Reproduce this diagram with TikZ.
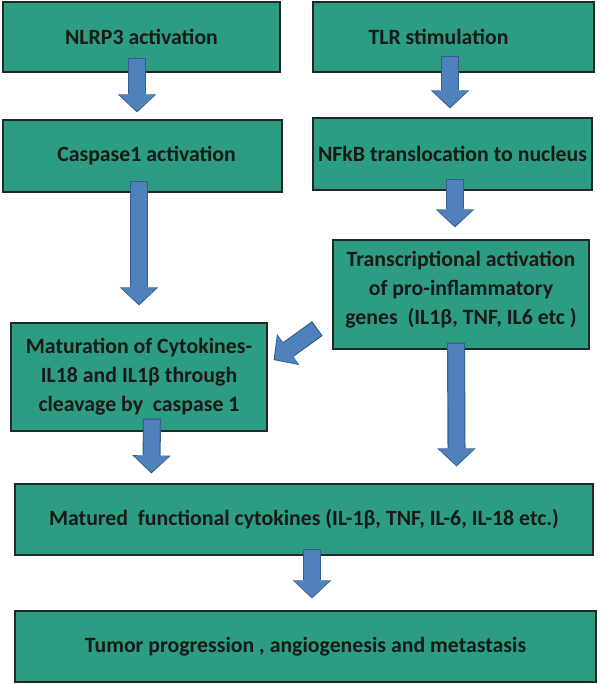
\documentclass[tikz,border=0pt]{standalone}
\usepackage{fontspec}
\setmainfont{Carlito}
\usetikzlibrary{arrows.meta}
\definecolor{boxteal}{RGB}{44,157,131}
\definecolor{arrowblue}{RGB}{79,129,189}
\definecolor{arrowedge}{RGB}{56,93,138}
\begin{document}
\begin{tikzpicture}[x=1pt, y=-1pt,
    box/.style={rectangle, draw=black!85, line width=1.2pt, fill=boxteal, inner sep=0pt, align=center, text=black!90, font=\bfseries\fontsize{21.8}{29}\selectfont},
    barrow/.style={draw=arrowblue, line width=15.6pt, shorten >=1.5pt, shorten <=1.2pt,
        -{Triangle[width=35pt, length=15.8pt, line width=0pt 0]},
        preaction={draw=arrowedge, line width=18pt, shorten >=0pt, shorten <=0pt,
        -{Triangle[width=38.5pt, length=18pt, line width=0pt 0]}}}
]
\useasboundingbox (0,0) rectangle (600,684);
\node[box, minimum width=277pt, minimum height=70pt] (nlrp) at (141.5,37) {NLRP3 activation};
\node[box, minimum width=281pt, minimum height=70pt] (tlr) at (453.5,37) {TLR stimulation\hspace{30pt}};
\node[box, minimum width=279pt, minimum height=72pt] (casp) at (142.5,156) {\hspace{8pt}Caspase1 activation};
\node[box, minimum width=279pt, minimum height=72pt] (nfkb) at (452.5,154) {NFkB translocation to nucleus};
\node[box, minimum width=256pt, minimum height=109pt] (trans) at (461,294.5) {Transcriptional activation\\of pro-inflammatory\\genes\ \ (IL1β, TNF, IL6 etc )\rule[-13pt]{0pt}{1pt}};
\node[box, minimum width=256pt, minimum height=108pt] (mat) at (139,377) {Maturation of Cytokines-\\IL18 and IL1β through\\cleavage by\ \ caspase 1};
\node[box, minimum width=578pt, minimum height=71pt] (matured) at (304,519.5) {Matured\ \ functional cytokines (IL-1β, TNF, IL-6, IL-18 etc.)};
\node[box, minimum width=581pt, minimum height=71pt] (tumor) at (305.5,646.5) {Tumor progression , angiogenesis and metastasis};
\draw[barrow] ([xshift=-4.5pt, yshift=15pt]nlrp.south) -- ([xshift=-5.5pt, yshift=7pt]casp.north);
\draw[barrow] ([xshift=-3.5pt, yshift=17pt]tlr.south) -- ([xshift=-2.5pt, yshift=9pt]nfkb.north);
\draw[barrow] ([xshift=-3.5pt, yshift=12pt]casp.south) -- ([yshift=17pt]mat.north);
\draw[barrow] ([xshift=2.5pt, yshift=12pt]nfkb.south) -- ([xshift=-6pt, yshift=12pt]trans.north);
\draw[barrow] ([xshift=-15pt, yshift=-34pt]trans.west) -- ([xshift=6pt, yshift=17pt]mat.east);
\draw[barrow] ([xshift=13pt, yshift=13pt]mat.south) -- ([xshift=137pt, yshift=10pt]matured.north west);
\draw[barrow] ([xshift=-5pt, yshift=7pt]trans.south) -- ([xshift=-137pt, yshift=17pt]matured.north east);
\draw[barrow] ([xshift=8pt, yshift=7pt]matured.south) -- ([xshift=6.5pt, yshift=12pt]tumor.north);
\end{tikzpicture}
\end{document}
